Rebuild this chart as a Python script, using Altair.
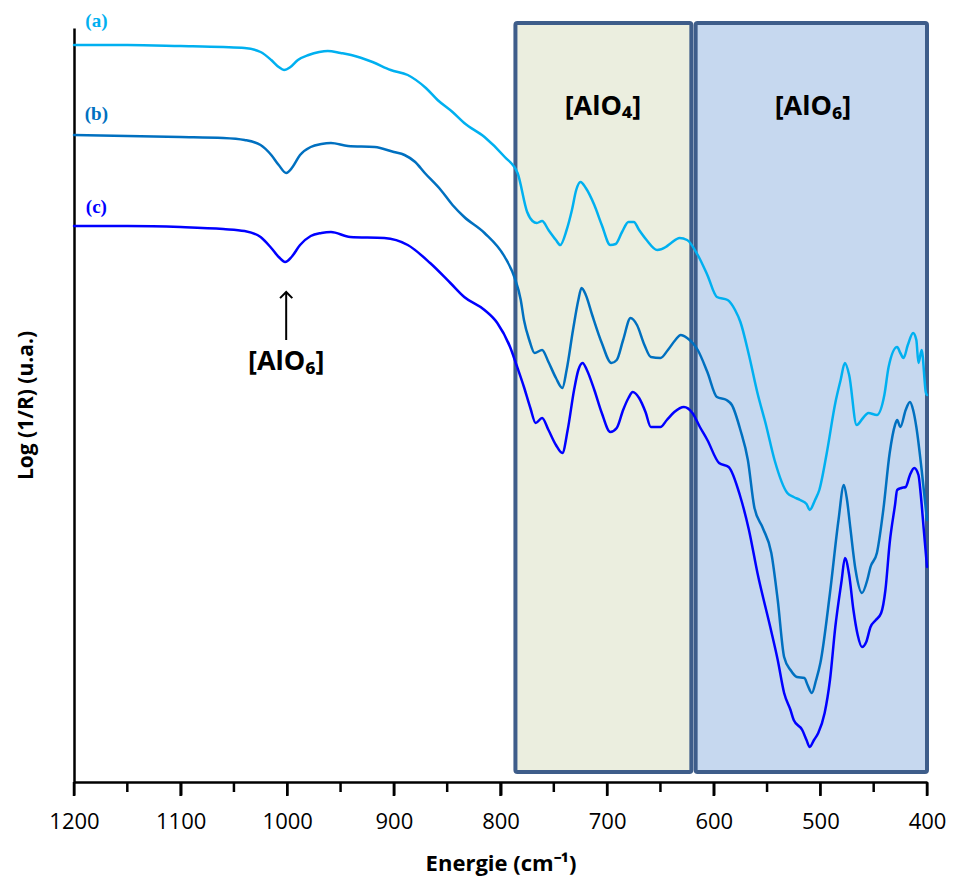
import altair as alt
import pandas as pd

# ---- spectra (wavenumber cm-1, Log(1/R) in arbitrary units) ----
wn_a = [1200, 1150, 1100, 1060, 1040, 1025, 1015, 1008, 1003, 997, 990, 980, 970, 962, 950, 940, 920, 903, 887, 870,
        859, 845, 834, 815, 796, 784, 775, 770, 766, 761, 755, 748, 744, 738, 733, 729, 725, 720, 712, 705,
        697, 692, 686, 680, 675, 670, 663, 653, 645, 640, 632, 625, 615, 606, 597, 587, 580, 575, 567, 559,
        551, 543, 531, 525, 519, 513, 510, 505, 501, 494, 486, 481, 477, 473, 466, 460, 455, 447, 440, 436,
        428, 425, 422, 418, 413, 410, 408, 405, 401, 400]
val_a = [737, 737, 736, 735, 734, 730, 722, 715, 712, 715, 722, 727, 730, 731, 729, 727, 720, 712, 707, 694,
         682, 670, 659, 645, 625, 609, 570, 561, 559, 561, 552, 542, 537, 552, 572, 592, 600, 594, 577, 557,
         537, 538, 550, 560, 560, 552, 542, 532, 535, 539, 544, 542, 527, 507, 485, 482, 472, 460, 427, 389,
         357, 322, 289, 285, 282, 278, 272, 282, 292, 329, 379, 402, 419, 407, 357, 364, 369, 367, 387, 415,
         435, 429, 424, 437, 449, 442, 419, 432, 389, 387]

wn_b = [1200, 1150, 1100, 1060, 1040, 1025, 1015, 1008, 1001, 995, 988, 978, 968, 959, 943, 918, 900, 890, 880, 871,
        856, 845, 834, 815, 796, 787, 781, 778, 773, 768, 761, 755, 748, 742, 738, 732, 727, 724, 720, 714,
        705, 696, 691, 685, 678, 672, 665, 659, 650, 643, 636, 631, 625, 615, 606, 597, 588, 583, 575, 568,
        562, 554, 546, 540, 534, 528, 522, 515, 512, 508, 504, 500, 491, 483, 478, 475, 472, 467, 461, 456,
        453, 447, 441, 435, 430, 428, 425, 420, 416, 413, 410, 405, 400]
val_b = [647, 646, 645, 644, 642, 637, 627, 617, 609, 615, 627, 635, 638, 639, 636, 635, 630, 627, 620, 609,
         592, 577, 565, 549, 525, 505, 482, 462, 442, 429, 432, 420, 404, 394, 412, 452, 482, 494, 487, 467,
         439, 419, 422, 442, 464, 457, 437, 425, 424, 432, 442, 447, 444, 432, 410, 385, 382, 377, 352, 322,
         275, 254, 229, 182, 125, 112, 105, 104, 97, 89, 102, 119, 189, 262, 297, 282, 255, 212, 189, 202,
         215, 229, 272, 329, 357, 362, 355, 372, 380, 372, 355, 312, 262]

wn_c = [1200, 1150, 1100, 1060, 1040, 1025, 1015, 1008, 1002, 996, 988, 978, 968, 959, 941, 909, 887, 866, 847, 834,
        815, 803, 791, 785, 778, 772, 767, 761, 755, 748, 742, 737, 731, 727, 723, 719, 712, 705, 697, 691,
        685, 680, 676, 670, 664, 659, 650, 644, 637, 628, 620, 613, 606, 595, 586, 575, 567, 559, 547, 540,
        534, 528, 525, 517, 513, 510, 506, 502, 496, 491, 486, 480, 477, 473, 469, 465, 461, 457, 453, 448,
        443, 439, 435, 430, 428, 424, 420, 416, 412, 408, 406, 403, 400]
val_c = [556, 556, 555, 553, 551, 545, 534, 525, 520, 525, 537, 546, 549, 550, 545, 544, 537, 519, 499, 485,
         472, 459, 435, 417, 395, 374, 359, 364, 352, 337, 329, 352, 392, 412, 419, 412, 392, 369, 350, 354,
         372, 384, 390, 384, 370, 355, 355, 362, 370, 375, 369, 355, 342, 319, 315, 285, 252, 209, 155, 122,
         89, 72, 62, 52, 42, 35, 42, 49, 69, 102, 155, 202, 224, 207, 172, 147, 135, 140, 155, 162,
         169, 192, 239, 277, 292, 294, 295, 307, 314, 307, 289, 252, 215]

series_names = ["(a)", "(b)", "(c)"]
series_colors = ["#00B0F0", "#0070C0", "#0000FF"]
series_widths = [2.5, 2.5, 3.2]

# ---- regions ----
region_names = ["[AlO₄]", "[AlO₆]"]
region_from = [786, 617]
region_to = [621, 400]
region_fill = ["#EBEEDF", "#C6D8EF"]
region_label_x = [704, 507]

# ---- axis ticks ----
major_ticks = [1200, 1100, 1000, 900, 800, 700, 600, 500, 400]
minor_ticks = [1150, 1050, 950, 850, 750, 650, 550, 450]

W, H = 853, 754
FONT = "Open Sans"
xscale = alt.Scale(domain=[400, 1200], reverse=True, nice=False, zero=False)
yscale = alt.Scale(domain=[0, H], nice=False, zero=False)

rows = []
for name, wn, val in zip(series_names, [wn_a, wn_b, wn_c], [val_a, val_b, val_c]):
    for w, v in zip(wn, val):
        rows.append({"serie": name, "wn": w, "v": v})
spec = pd.DataFrame(rows)

reg = pd.DataFrame({"name": region_names, "x1": region_from, "x2": region_to,
                    "fill": region_fill, "lx": region_label_x})

x_axis = alt.Axis(values=major_ticks, format="d", title="Energie (cm⁻¹)", labelFlush=False)

boxes = alt.Chart(reg).mark_rect(stroke="#3E5D8A", strokeWidth=4, cornerRadius=2).encode(
    x=alt.X("x1:Q", scale=xscale, axis=x_axis),
    x2="x2:Q",
    y=alt.value(-5),
    y2=alt.value(744),
    fill=alt.Fill("fill:N", scale=None),
)

box_labels = alt.Chart(reg).mark_text(font=FONT, fontSize=27, fontWeight="bold", color="black").encode(
    x=alt.X("lx:Q", scale=xscale, axis=x_axis), y=alt.value(79), text="name:N")

y_axis = alt.Axis(title="Log (1/R) (u.a.)", labels=False, ticks=False, grid=False)

lines = alt.Chart(spec).mark_line(strokeJoin="round", strokeCap="round", interpolate="monotone").encode(
    x=alt.X("wn:Q", scale=xscale, axis=x_axis),
    y=alt.Y("v:Q", scale=yscale, axis=y_axis),
    color=alt.Color("serie:N", scale=alt.Scale(domain=series_names, range=series_colors), legend=None),
    strokeWidth=alt.StrokeWidth("serie:N", scale=alt.Scale(domain=series_names, range=series_widths),
                                legend=None),
    detail="serie:N",
)

lab = pd.DataFrame({"serie": series_names, "wn": [1179, 1179, 1179], "v": [761, 668, 575]})
curve_labels = alt.Chart(lab).mark_text(font="Liberation Serif", fontSize=19, fontWeight="bold").encode(
    x=alt.X("wn:Q", scale=xscale, axis=x_axis), y=alt.Y("v:Q", scale=yscale, axis=y_axis),
    color=alt.Color("serie:N", scale=alt.Scale(domain=series_names, range=series_colors), legend=None),
    text="serie:N")

major = alt.Chart(pd.DataFrame({"t": major_ticks})).mark_rule(color="black", strokeWidth=2.5).encode(
    x=alt.X("t:Q", scale=xscale, axis=x_axis), y=alt.value(H), y2=alt.value(H + 14))
minor = alt.Chart(pd.DataFrame({"t": minor_ticks})).mark_rule(color="black", strokeWidth=2.5).encode(
    x=alt.X("t:Q", scale=xscale, axis=x_axis), y=alt.value(H), y2=alt.value(H + 10))

arrow_df = pd.DataFrame({"wn": [1001], "tip": [490], "base": [442], "txt": ["[AlO₆]"], "tv": [420]})
arrow_shaft = alt.Chart(arrow_df).mark_rule(color="black", strokeWidth=2).encode(
    x=alt.X("wn:Q", scale=xscale, axis=x_axis), y=alt.Y("tip:Q", scale=yscale, axis=y_axis), y2="base:Q")
arrow_head = alt.Chart(arrow_df).mark_point(shape="M -1 1 L 0 0 L 1 1", filled=False, color="black",
                                            strokeWidth=2, size=150, opacity=1).encode(
    x=alt.X("wn:Q", scale=xscale, axis=x_axis), y=alt.Y("tip:Q", scale=yscale, axis=y_axis))
arrow_text = alt.Chart(arrow_df).mark_text(font=FONT, fontSize=27, fontWeight="bold", color="black").encode(
    x=alt.X("wn:Q", scale=xscale, axis=x_axis), y=alt.Y("tv:Q", scale=yscale, axis=y_axis), text="txt:N")

chart = alt.layer(boxes, box_labels, major, minor, lines, curve_labels, arrow_shaft, arrow_head,
                  arrow_text).properties(
    width=W, height=H,
    background="white",
    autosize=alt.AutoSizeParams(type="none"),
    padding={"left": 66, "top": 20, "right": 20, "bottom": 96},
).configure_view(strokeWidth=0, stroke="transparent").configure_axis(
    grid=False, domainColor="black", domainWidth=2.5, titleColor="black", titleFont=FONT,
    titleFontWeight="bold", labelColor="black", labelFont=FONT,
).configure_axisX(
    ticks=True, tickColor="black", tickWidth=2, tickSize=13, labelFontSize=22, labelPadding=16,
    titleFontSize=22, titlePadding=21,
).configure_axisY(
    titleFontSize=21, titlePadding=38,
)

chart.save("out.html", embed_options={"renderer": "svg", "actions": False})
